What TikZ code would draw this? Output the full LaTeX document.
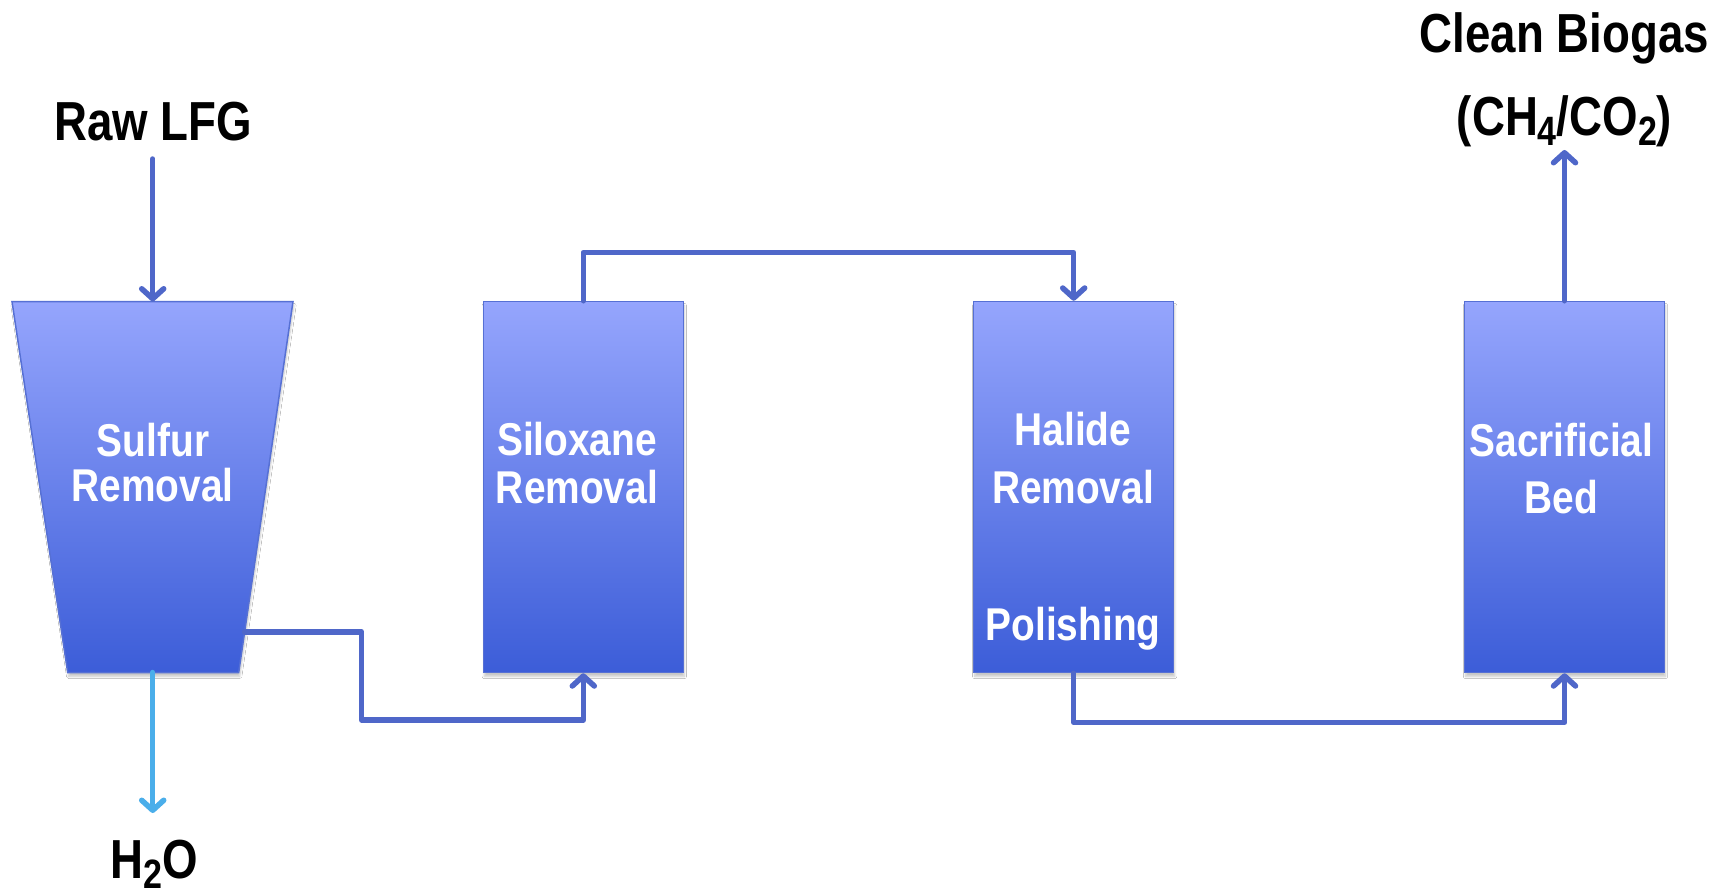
\documentclass[tikz,border=0pt]{standalone}
\usepackage{fontspec}
\setmainfont[FakeStretch=0.83]{Liberation Sans}
\newfontfamily\boxfont[FakeStretch=0.845]{Liberation Sans}
\usetikzlibrary{arrows.meta,shadows.blur,calc}
\definecolor{linec}{HTML}{4F67C9}
\definecolor{boxtop}{HTML}{95A5FD}
\definecolor{boxbot}{HTML}{3C5DD8}
\definecolor{boxedge}{HTML}{5670D4}
\definecolor{waterc}{HTML}{4AAEEA}
\newcommand\lowsub[1]{\raisebox{-10pt}{\fontsize{41}{41}\selectfont #1}}
\begin{document}
\begin{tikzpicture}[x=1pt,y=-1pt,
  myshadow/.style={blur shadow={shadow xshift=1pt,shadow yshift=-4pt,shadow blur steps=6,shadow opacity=22}},
  unit/.style={draw=boxedge,line width=1.5pt,top color=boxtop,bottom color=boxbot,
    minimum width=200pt,minimum height=371pt,inner sep=0pt,myshadow},
  flow/.style={draw=linec,line width=5.5pt,line cap=round,line join=round,
    -{Straight Barb[length=10pt,width=22pt,line cap=round,line join=round]}},
  boxtext/.style={text=white,font=\boxfont\fontsize{46}{46}\selectfont\bfseries,anchor=base},
  outtext/.style={text=black,font=\fontsize{55}{55}\selectfont\bfseries,anchor=base}]
\fill[white] (0,0) rectangle (1723,894);
\useasboundingbox (0,0) rectangle (1723,894);

% Sulfur removal (trapezoid)
\shade[top color=boxtop,bottom color=boxbot,draw=boxedge,line width=1.5pt,myshadow]
  (12,301.5) -- (293,301.5) -- (238.7,672.5) -- (67.7,672.5) -- cycle;
\coordinate (sulfin) at (152.7,301.5);
\coordinate (sulfout) at (244.7,632);
\coordinate (sulfbot) at (152.7,672.5);
\coordinate (rawstart) at (152.7,159);
\coordinate (waterend) at (152.7,813);
\coordinate (bend1) at (361.7,720);
\coordinate (cleanend) at (1564.5,150);

% Columns
\node[unit] (silox) at (583.3,487) {};
\node[unit] (halide) at (1073.7,487) {};
\node[unit] (sacr) at (1564.5,487) {};

% Box labels
\node[boxtext] (t1a) at (153,456.7) {Sulfur};
\node[boxtext] (t1b) at (152.5,501.7) {Removal};
\node[boxtext] (t2a) at (577,455) {Siloxane};
\node[boxtext] (t2b) at (577,503.3) {Removal};
\node[boxtext] (t3a) at (1073,445) {Halide};
\node[boxtext] (t3b) at (1073,503.3) {Removal};
\node[boxtext] (t3c) at (1073,640) {Polishing};
\node[boxtext] (t4a) at (1561.5,456.7) {Sacrificial};
\node[boxtext] (t4b) at (1561.5,513.3) {Bed};

% Outer labels
\node[outtext] (raw) at (153,140) {Raw LFG};
\node[outtext] (water) at (154,878) {H\lowsub{2}O};
\node[outtext] (clean1) at (1564.5,52) {Clean Biogas};
\node[outtext] (clean2) at (1564.5,135) {(CH\lowsub{4}/CO\lowsub{2})};

% Connectors
\draw[flow] (rawstart) -- (sulfin);
\draw[flow,draw=waterc] (sulfbot) -- (waterend);
\draw[flow] (sulfout) -| (bend1) -| (silox.south);
\draw[flow] (silox.north) -- ++(0,-48.3) -| (halide.north);
\draw[flow] (halide.south) -- ++(0,49) -| (sacr.south);
\draw[flow] (sacr.north) -- (cleanend);
\end{tikzpicture}
\end{document}
